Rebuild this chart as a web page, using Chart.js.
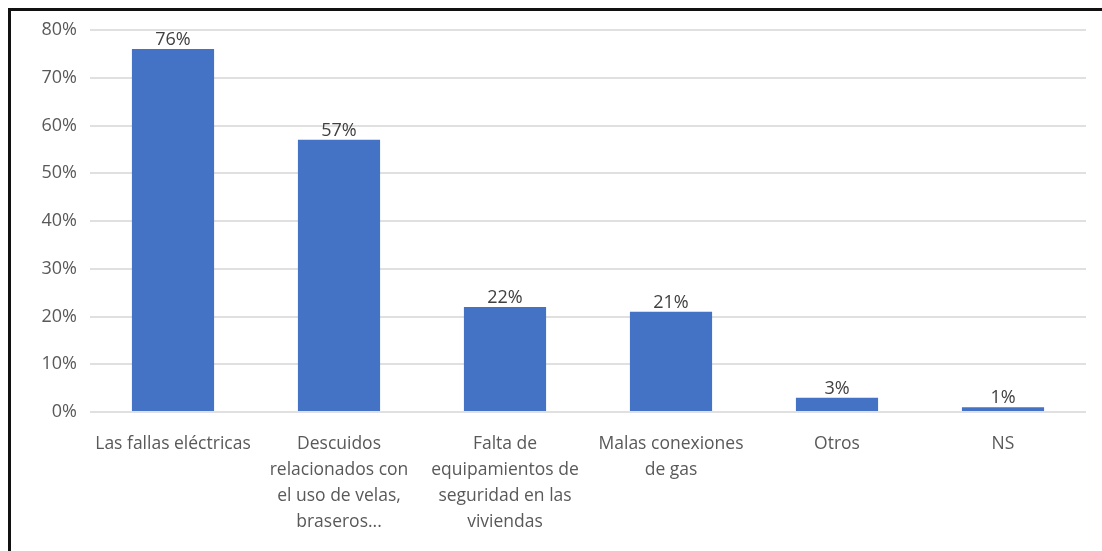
<!DOCTYPE html>
<html>
<head>
<meta charset="utf-8">
<script src="https://cdn.jsdelivr.net/npm/chart.js@4"></script>
<style>
  html, body { margin: 0; padding: 0; background: #fff; }
  #wrap { position: relative; width: 1102px; height: 551px; overflow: hidden; }
  #frame {
    position: absolute; left: 8px; top: 8px; right: -10px; bottom: -10px;
    border-top: 3px solid #111; border-left: 3px solid #111;
    pointer-events: none;
  }
  canvas { position: absolute; left: 0; top: 0; }
</style>
</head>
<body>
<div id="wrap">
  <canvas id="causas" width="1102" height="551"></canvas>
  <div id="frame"></div>
</div>
<script>
// categorías (multilínea) y porcentajes
const causas = [
    'Las fallas eléctricas',
    ['Descuidos', 'relacionados con', 'el uso de velas,', 'braseros...'],
    ['Falta de', 'equipamientos de', 'seguridad en las', 'viviendas'],
    ['Malas conexiones', 'de gas'],
    'Otros',
    'NS'
];
const porcentajes = [76, 57, 22, 21, 3, 1];
const yMax = 80;
const yStep = 10;

const fontFamily = "'Open Sans', 'Noto Sans', sans-serif";

// etiquetas de valor sobre cada barra
const valueLabels = {
    id: 'valueLabels',
    afterDatasetsDraw(chart) {
        const ctx = chart.ctx;
        const meta = chart.getDatasetMeta(0);
        ctx.save();
        ctx.font = '18px ' + fontFamily;
        ctx.fillStyle = '#404040';
        ctx.textAlign = 'center';
        ctx.textBaseline = 'bottom';
        meta.data.forEach((bar, i) => {
            ctx.fillText(porcentajes[i] + '%', bar.x, bar.y);
        });
        ctx.restore();
    }
};

const config = {
    type: 'bar',
    data: {
        labels: causas,
        datasets: [{
            data: porcentajes,
            backgroundColor: '#4472C4',
            borderWidth: 0,
            barPercentage: 0.495,
            categoryPercentage: 1
        }]
    },
    options: {
        responsive: false,
        animation: false,
        layout: { padding: { top: 30, right: 16, bottom: 0, left: 0 } },
        plugins: {
            legend: { display: false },
            tooltip: { enabled: false }
        },
        scales: {
            x: {
                grid: { display: false },
                border: { display: false },
                ticks: {
                    color: '#595959',
                    font: { family: fontFamily, size: 17.5, lineHeight: 1.48 },
                    padding: 11,
                    maxRotation: 0,
                    autoSkip: false
                },
                afterFit(scale) { scale.height = 139; }
            },
            y: {
                min: 0,
                max: yMax,
                border: { display: false },
                grid: { color: '#e0e0e0', lineWidth: 2, drawTicks: false },
                ticks: {
                    stepSize: yStep,
                    color: '#595959',
                    font: { family: fontFamily, size: 18 },
                    padding: 13,
                    callback: v => v + '%'
                },
                afterFit(scale) { scale.width = 90; }
            }
        }
    },
    plugins: [valueLabels]
};

new Chart(document.getElementById('causas'), config);
</script>
</body>
</html>
